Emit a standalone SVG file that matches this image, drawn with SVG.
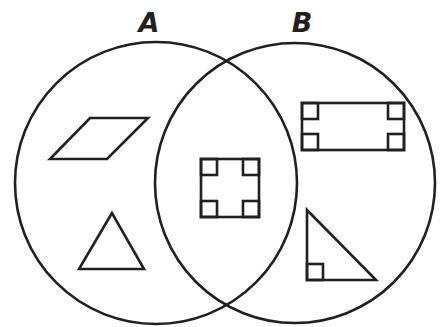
<svg xmlns="http://www.w3.org/2000/svg" width="440" height="327" viewBox="0 0 440 327">
<style>
.c{fill:none;stroke:#231f20;stroke-width:2.6}
.s{fill:none;stroke:#231f20;stroke-width:2.6;stroke-linejoin:miter}
.t{font-family:"DejaVu Sans","Liberation Sans",sans-serif;font-weight:bold;font-style:italic;font-size:27px;fill:#231f20;text-anchor:middle}
</style>
<rect width="440" height="327" fill="#fff"/>
<g id="setA">
<circle class="c" cx="156" cy="183" r="141"/>
<text class="t" x="149" y="32">A</text>
</g>
<g id="setB">
<circle class="c" cx="295" cy="183" r="140"/>
<text class="t" x="302" y="32">B</text>
</g>
<g id="parallelogram">
<polygon class="s" points="90,118 148,118 107,159 50,159"/>
</g>
<g id="triangle">
<polygon class="s" points="112,213 79,269 144,269"/>
</g>
<g id="square">
<rect class="s" x="201" y="159" width="58" height="58"/>
<rect class="s" x="201" y="159" width="16" height="16"/>
<rect class="s" x="243" y="159" width="16" height="16"/>
<rect class="s" x="201" y="201" width="16" height="16"/>
<rect class="s" x="243" y="201" width="16" height="16"/>
</g>
<g id="rectangle">
<rect class="s" x="302" y="103" width="102" height="47"/>
<rect class="s" x="302" y="103" width="16" height="16"/>
<rect class="s" x="388" y="103" width="16" height="16"/>
<rect class="s" x="302" y="134" width="16" height="16"/>
<rect class="s" x="388" y="134" width="16" height="16"/>
</g>
<g id="right-triangle">
<polygon class="s" points="307,210 307,280 376,280"/>
<rect class="s" x="307" y="264" width="16" height="16"/>
</g>
</svg>
